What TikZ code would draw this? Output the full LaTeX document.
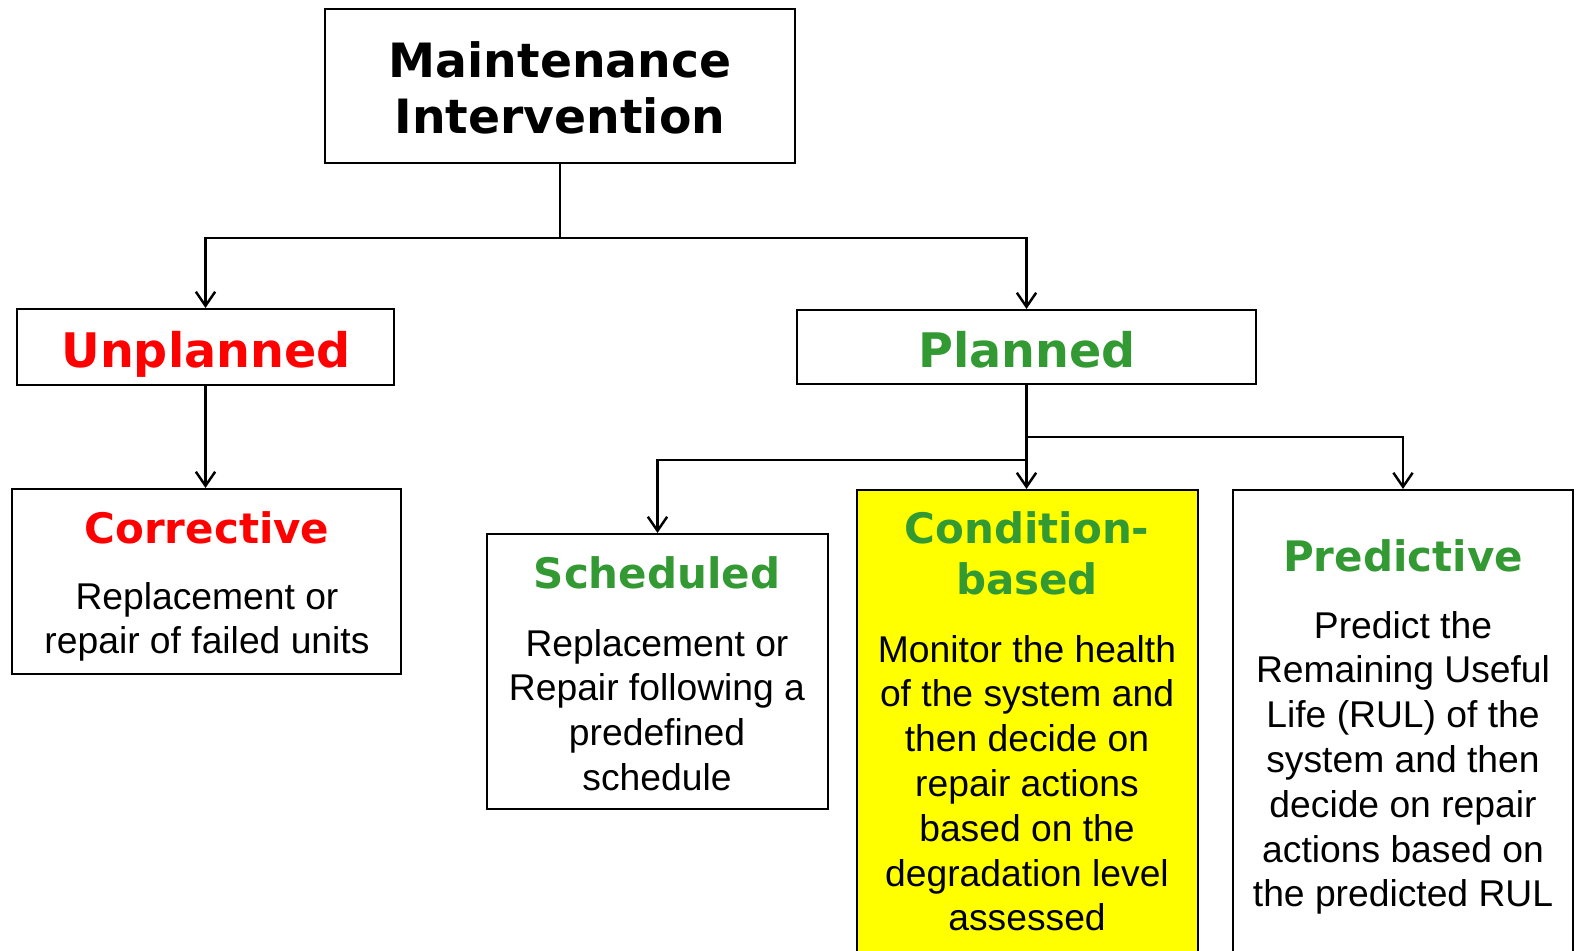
\documentclass[tikz,border=0pt]{standalone}
\usepackage{fontspec}
\setmainfont{Liberation Sans}
\newfontfamily\headfont{DejaVu Sans}
\usetikzlibrary{arrows.meta,fit}

\definecolor{hdred}{RGB}{255,0,0}
\definecolor{hdgreen}{RGB}{51,153,51}
\definecolor{cbyellow}{RGB}{255,255,0}

% centred stack of lines whose baseline is the first line's baseline
\newcommand\stk[1]{\begin{tabular}[t]{@{}c@{}}#1\end{tabular}}

\begin{document}
\begin{tikzpicture}[x=0.02cm,y=-0.02cm,
  box/.style={draw=black, line width=1.2pt, inner sep=0pt},
  conn/.style={draw=black, line width=1.4pt, -{Straight Barb[length=8pt,width=11pt]}},
  toptitle/.style={anchor=base, inner sep=0pt,
    font={\headfont\bfseries\fontsize{26.9}{31.9}\selectfont}},
  branch/.style={anchor=base, inner sep=0pt,
    font={\headfont\bfseries\fontsize{27.1}{32}\selectfont}},
  kind/.style={anchor=base, inner sep=0pt,
    font={\headfont\bfseries\fontsize{23.9}{29.3}\selectfont}},
  body/.style={anchor=base, inner sep=0pt,
    font={\fontsize{21.2}{25.5}\selectfont}}
]
\useasboundingbox (0,0) rectangle (1577,950);
\clip (0,0) rectangle (1577,950);

% boxes
\node[box, fit={(325,9) (795,163)}] (top) {};
\node[box, fit={(17,309) (394,385)}] (unpl) {};
\node[box, fit={(797,310) (1256,384)}] (plan) {};
\node[box, fit={(12,489) (401,674)}] (corr) {};
\node[box, fit={(487,534) (828,809)}] (sched) {};
\node[box, fill=cbyellow, fit={(857,490) (1198,1010)}] (cond) {};
\node[box, fit={(1233,490) (1573,1010)}] (pred) {};

% texts
\node[toptitle] (ttop) at (560,77) {\stk{Maintenance\\Intervention}};
\node[branch, text=hdred] (tunpl) at (206,367) {Unplanned};
\node[branch, text=hdgreen] (tplan) at (1027,367) {Planned};

\node[kind, text=hdred] (hcorr) at (207,543) {Corrective};
\node[body] (bcorr) at (207,609) {\stk{Replacement or\\repair of failed units}};

\node[kind, text=hdgreen] (hsched) at (657,588) {Scheduled};
\node[body] (bsched) at (657,656) {\stk{Replacement or\\Repair following a\\predefined\\schedule}};

\node[kind, text=hdgreen] (hcond) at (1027,543) {\stk{Condition-\\based}};
\node[body] (bcond) at (1027,662) {\stk{Monitor the health\\of the system and\\then decide on\\repair actions\\based on the\\degradation level\\assessed}};

\node[kind, text=hdgreen] (hpred) at (1403,571) {Predictive};
\node[body] (bpred) at (1403,638) {\stk{Predict the\\Remaining Useful\\Life (RUL) of the\\system and then\\decide on repair\\actions based on\\the predicted RUL}};

% connectors
\path (top.south) ++(0,74) coordinate (j1);
\draw[conn] (top.south) -- (j1) -| (unpl.north);
\draw[conn] (j1) -| (plan.north);
\draw[conn] (unpl.south) -- (unpl.south |- corr.north);

\path (plan.south) ++(0,52) coordinate (j2);
\path (plan.south) ++(0,75) coordinate (j3);
\draw[conn] (plan.south) -- (plan.south |- cond.north);
\draw[conn] (j2) -| (pred.north);
\draw[conn] (j3) -| (sched.north);
\end{tikzpicture}
\end{document}
